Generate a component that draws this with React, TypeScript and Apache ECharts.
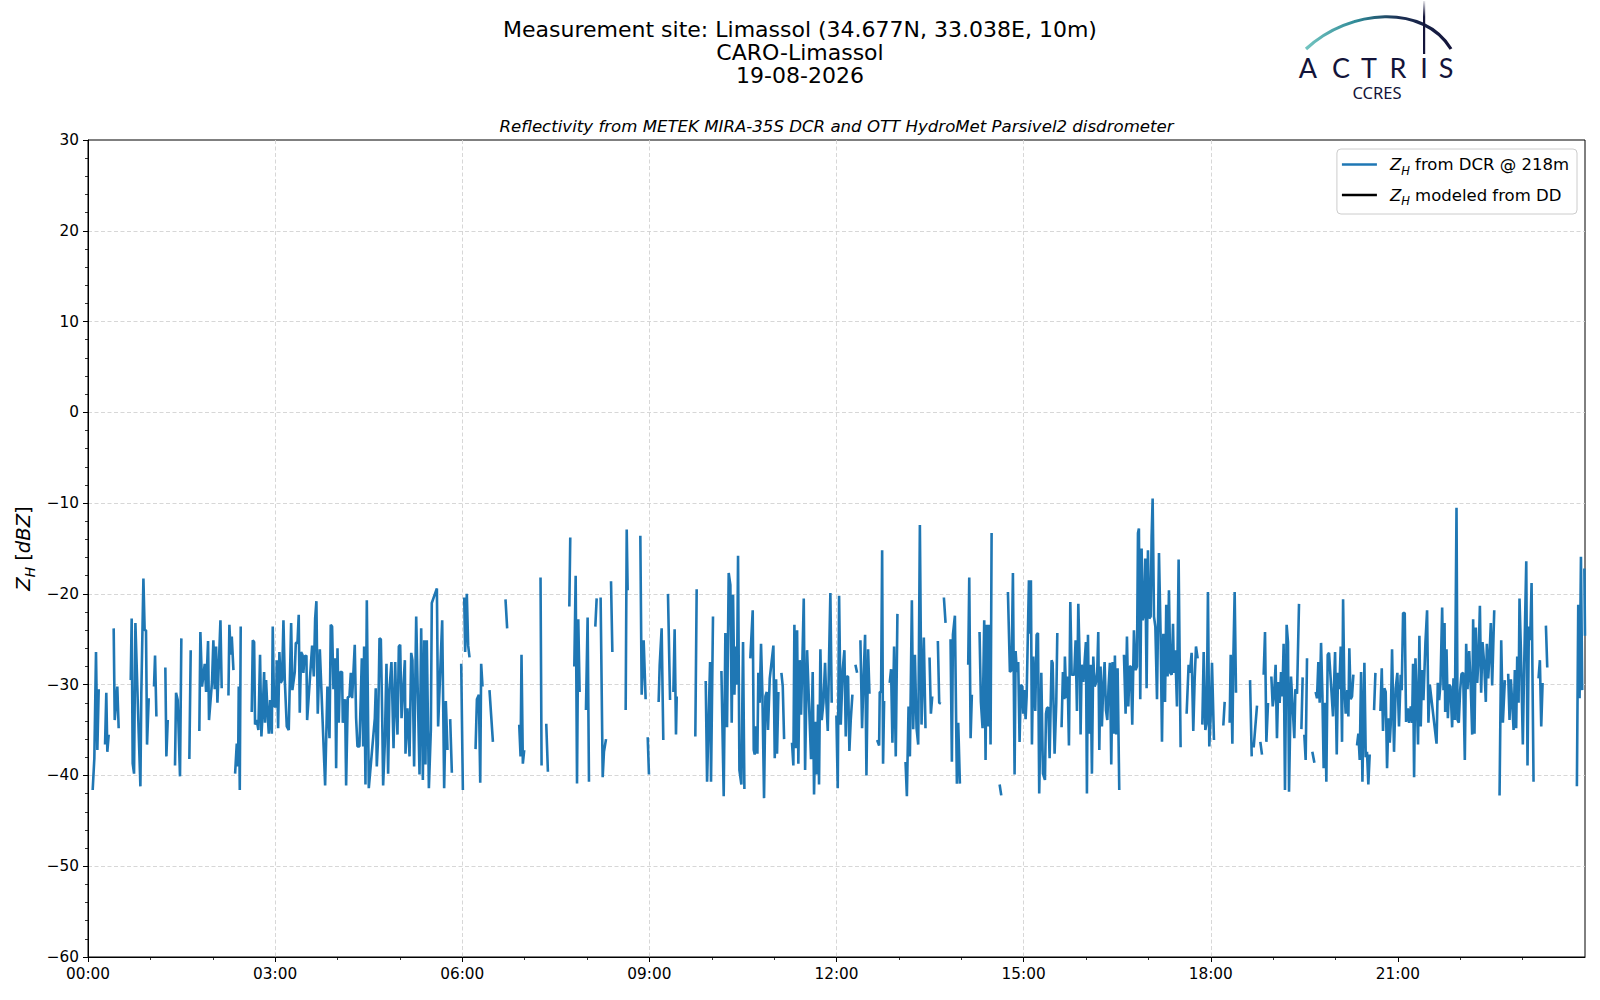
import React, { useEffect, useRef } from "react";
import * as echarts from "echarts";

type Pt = [number, number] | null;

// time in minutes since 00:00, Z_H in dBZ; null = gap
const dcrNight: Pt[] = [
  [4.5,-41.6],[6.1,-38.1],[7.7,-26.4],[9.0,-37.2],[10.3,-30.5],null,
  [16.4,-36.6],[17.6,-30.9],[18.6,-37.4],[19.9,-35.5],null,
  [24.7,-23.8],[25.7,-33.9],[28.2,-30.2],[29.5,-34.8],null,
  [41.1,-29.5],[42.0,-22.7],[43.0,-38.7],[44.3,-39.8],[45.6,-23.2],[48.8,-35.4],[50.4,-41.2],[51.3,-30.9],[53.3,-18.3],[54.5,-24.0],[55.8,-24.0],[56.8,-36.6],[58.4,-31.5],null,
  [63.5,-30.2],[64.5,-26.8],[65.8,-33.5],null,
  [74.4,-28.1],[75.4,-37.9],[76.7,-33.9],null,
  [83.7,-38.9],[84.7,-30.9],[86.3,-31.7],[88.5,-40.1],[89.8,-24.9],null,
  [97.5,-38.2],[98.8,-26.2],null,
  [107.1,-35.1],[108.1,-24.2],[109.7,-30.2],[112.3,-27.7],[113.6,-30.8],[115.5,-25.2],[116.4,-33.9],[119.3,-29.7],[120.6,-25.1],[121.9,-30.5],[123.2,-25.8],[124.5,-32.0],[127.4,-22.9],[128.6,-30.4],null,
  [135.1,-31.2],[136.0,-23.4],[137.3,-26.7],[138.3,-24.7],[139.9,-28.4],null,
  [141.5,-39.8],[143.1,-36.5],[144.4,-39.0],[145.0,-30.2],[146.0,-41.6],[146.9,-23.6],null,
  [157.5,-33.0],[158.5,-25.1],[159.8,-25.3],[160.7,-34.4],[162.3,-33.9],[163.9,-35.0],[165.5,-26.7],[166.8,-35.7],[168.1,-32.8],[169.4,-28.6],[170.3,-34.2],[171.3,-29.5],[172.6,-32.8],[173.9,-35.4],[175.2,-31.7],[176.8,-35.4],[177.7,-23.6],[179.0,-32.4],[180.9,-32.4],[181.6,-27.3],[182.9,-34.8],[184.1,-26.4],[185.4,-29.8],[186.7,-29.5],[188.0,-22.9],[189.3,-29.5],[191.2,-34.6],[193.1,-35.0],[195.4,-23.2],[196.6,-30.6],[198.9,-28.6],[199.9,-25.4],[201.5,-25.4],[202.7,-22.3],[203.7,-33.1],[205.0,-26.4],[206.3,-26.7],[207.2,-28.7],[208.2,-26.9],[210.1,-26.8],[210.8,-33.9],
  [215.6,-25.7],[217.2,-29.1],[218.5,-22.7],[219.7,-20.8],[221.0,-33.2],[223.0,-26.1],[228.1,-41.1],[230.3,-30.2],[232.3,-35.9],[233.5,-23.4],[234.8,-23.6],[236.1,-30.5],[237.7,-27.1],[238.7,-39.2],[240.0,-26.0],[241.2,-34.2],[242.5,-28.6],[244.4,-28.6],[245.1,-34.2],[247.3,-31.6],[248.3,-41.1],[249.9,-31.4],[251.5,-31.3],[252.8,-28.7],[254.1,-31.5],[256.6,-25.6],[257.9,-33.7],[259.2,-36.8],[261.1,-36.8],[263.4,-27.1],[264.7,-36.8],[265.6,-25.8],[266.9,-41.0],[268.2,-20.7],[270.1,-41.4],
  [275.9,-33.7],[276.8,-30.4],[277.8,-39.0],[278.8,-36.5],[280.4,-24.9],[281.7,-25.0],[282.9,-32.8],[283.9,-41.1],[285.5,-36.5],[287.1,-27.7],[288.7,-39.8],[290.0,-30.5],[291.9,-27.5],[293.9,-37.0],[295.5,-27.5],[296.4,-31.9],[297.7,-35.5],[299.0,-25.8],[300.3,-25.6],[301.6,-33.7],[302.8,-31.3],[304.8,-27.3],[305.4,-37.6],[307.3,-32.6],[309.3,-37.9],[310.9,-26.5],[312.1,-27.3],[313.7,-39.0],[315.7,-22.5],[317.3,-31.3],[318.9,-39.9],[320.5,-23.8],[322.1,-40.5],[323.4,-25.1],[324.6,-38.8],[325.9,-25.1],[327.9,-41.4],[329.8,-35.0],[330.7,-21.0],[335.6,-19.4],[336.8,-34.6],[340.7,-22.9],[342.6,-41.4],[344.2,-31.8],[345.8,-37.2],null,
  [348.4,-33.8],[350.0,-39.7],null,
  [359.0,-27.7],[360.6,-41.6],null,
];

const dcrMorning: Pt[] = [
  [361.9,-20.4],[362.8,-26.4],[364.4,-20.0],[365.7,-25.7],[367.0,-27.0],null,
  [372.8,-37.1],[374.1,-31.6],[376.0,-31.1],[377.3,-40.8],[378.2,-27.7],[379.5,-30.2],null,
  [386.2,-30.6],[389.5,-36.3],null,
  [401.6,-20.6],[403.2,-23.8],null,
  [414.8,-34.4],[416.1,-37.9],[417.0,-26.7],[418.3,-38.7],[419.6,-37.2],null,
  [435.3,-18.2],[436.3,-38.9],null,
  [440.8,-34.3],[442.4,-39.6],null,
  [463.0,-21.4],[463.9,-13.8],null,
  [467.8,-28.0],[469.1,-18.0],[470.4,-40.9],[471.6,-22.8],[472.9,-30.8],null,
  [479.0,-32.8],[480.6,-22.6],[481.9,-40.7],null,
  [488.0,-23.6],[489.3,-20.5],null,
  [493.1,-20.4],[495.1,-40.2],[496.3,-37.4],[498.3,-36.0],null,
  [503.1,-18.6],[504.4,-26.4],null,
  [517.2,-32.8],[518.2,-12.9],[519.1,-19.6],null,
  [531.3,-13.6],[532.6,-31.1],[534.5,-25.1],[536.4,-31.6],null,
  [538.4,-35.8],[539.6,-39.9],null,
  [548.9,-31.9],[549.9,-27.9],[551.8,-23.8],[553.4,-36.1],null,
  [557.9,-20.0],[559.9,-31.7],null,
  [563.1,-30.8],[564.3,-23.9],[565.6,-35.5],[566.3,-31.3],null,
  [584.2,-35.7],[585.5,-19.5],null,
  [594.2,-29.6],[595.5,-40.7],[598.4,-27.5],[599.3,-40.7],[601.2,-22.5],null,
  [609.3,-28.5],[611.5,-42.3],[613.1,-24.3],[614.7,-34.7],[616.3,-17.7],[617.9,-19.0],[619.2,-34.2],[620.5,-20.1],[621.8,-31.1],[623.0,-25.8],[624.3,-30.0],[625.3,-15.8],[626.6,-39.4],[628.5,-41.0],[630.1,-25.3],[631.4,-41.5],null,
  [637.1,-27.1],[639.4,-21.8],[640.4,-37.2],[641.3,-37.7],[642.6,-34.6],[643.9,-37.6],[644.8,-28.7],[646.1,-32.0],[647.4,-25.5],[648.7,-30.9],[650.3,-42.5],[651.6,-31.3],[652.9,-30.8],[654.1,-35.0],[655.8,-29.3],[659.3,-25.7],[660.6,-38.1],[661.9,-29.4],[662.8,-37.6],[664.1,-30.8],null,
  [667.0,-28.7],[668.3,-30.2],[669.6,-36.0],null,
  [677.2,-36.4],[678.5,-38.9],[679.5,-23.4],[680.8,-37.0],[682.1,-24.0],[683.3,-38.7],[684.6,-27.3],[685.9,-33.3],[687.2,-27.3],[688.5,-20.5],[689.8,-39.4],[691.7,-26.2],[695.5,-38.2],[697.1,-28.6],[698.4,-42.1],[699.7,-34.1],[701.0,-39.9],[702.3,-32.2],[703.2,-41.0],[704.5,-26.1],[705.8,-33.9],[707.4,-32.0],[709.0,-27.6],[710.3,-32.0],[711.6,-35.1],[712.9,-26.7],[714.1,-19.9],[715.4,-32.0],null,
];

const dcrAfternoon: Pt[] = [
  [719.9,-33.4],[721.2,-41.4],[722.5,-20.2],[724.1,-34.4],[726.0,-28.3],[727.6,-26.2],[728.9,-35.7],[729.9,-29.1],[731.1,-29.1],[732.4,-37.3],[733.7,-33.9],[735.3,-31.1],null,
  [738.2,-27.8],[739.8,-28.7],null,
  [743.0,-25.1],[744.6,-34.8],[745.9,-29.7],[747.5,-24.5],[748.8,-40.0],[750.4,-26.1],[751.7,-31.0],null,
  [759.1,-36.1],[761.0,-36.7],[761.6,-30.8],[762.9,-30.8],[763.9,-15.2],[764.8,-38.7],[765.8,-31.8],null,
  [771.2,-29.8],[772.5,-28.3],[773.8,-36.4],[775.4,-25.8],[777.0,-37.9],[778.6,-22.2],null,
  [786.4,-38.5],[787.7,-42.3],[789.3,-32.4],[790.6,-37.9],[792.5,-20.7],[793.8,-34.9],[795.4,-26.7],[797.0,-34.8],[798.6,-36.6],[800.2,-12.4],[801.8,-34.4],[804.0,-24.8],[805.6,-34.8],null,
  [809.5,-27.0],[810.8,-33.2],[812.1,-31.3],null,
  [817.5,-25.2],[818.8,-32.0],[820.4,-32.1],null,
  [823.3,-20.4],[824.9,-23.2],null,
  [829.7,-25.0],[831.0,-38.5],[832.0,-24.5],[833.9,-22.4],[835.8,-40.9],[837.1,-34.2],[838.7,-40.9],null,
  [846.7,-27.8],[847.7,-18.2],[849.0,-35.9],[850.2,-31.1],null,
  [857.6,-24.2],[858.9,-31.9],[860.5,-34.8],[862.1,-22.9],[863.4,-38.3],[864.4,-23.4],[865.6,-34.6],[866.9,-23.4],[868.2,-36.6],[869.2,-13.3],null,
  [876.9,-41.0],[878.5,-42.2],null,
  [884.9,-19.8],[886.8,-28.6],[888.4,-28.4],[889.7,-17.7],[891.3,-39.9],[892.3,-26.3],[893.5,-28.6],[894.8,-27.5],[896.1,-36.3],[897.4,-30.0],[898.7,-30.2],[899.6,-33.2],[900.6,-30.6],[901.9,-33.8],[902.9,-31.3],[905.1,-18.5],[906.1,-24.4],[907.0,-18.5],[908.0,-36.6],[909.3,-26.9],[911.2,-32.9],[912.5,-24.5],[913.8,-24.3],[915.0,-42.0],[917.0,-28.7],[918.6,-39.8],[920.5,-40.5],[921.5,-33.2],[922.4,-32.6],[923.7,-32.5],[925.0,-38.1],[926.9,-27.3],[927.9,-27.6],[929.8,-37.6],[931.4,-32.0],[932.4,-24.3],null,
  [936.5,-34.7],[937.8,-28.6],[939.1,-31.6],[939.7,-26.9],[941.0,-31.5],[942.3,-29.1],[943.6,-36.7],[944.9,-20.9],[946.2,-28.9],[948.7,-28.9],[950.0,-25.1],[951.3,-32.9],[952.6,-21.1],[954.2,-28.9],
  [954.8,-35.5],[955.8,-27.8],[957.4,-29.7],[958.6,-27.6],[959.9,-25.3],[960.9,-42.0],[961.9,-24.5],[963.1,-35.4],[964.4,-27.8],[965.7,-39.8],[967.0,-26.9],[968.3,-30.2],[969.6,-29.8],[970.8,-28.6],[971.8,-24.2],[972.8,-37.2],[974.0,-28.0],[975.3,-34.6],[976.6,-30.2],[977.9,-27.5],[979.2,-32.8],[980.5,-33.9],[981.7,-30.2],[983.0,-27.6],[984.3,-38.8],[985.6,-27.5],[986.9,-35.4],[987.8,-26.8],[989.1,-35.5],[990.4,-28.2],[992.0,-41.6],null,
  [996.5,-26.7],[998.1,-33.2],[999.4,-24.7],[1000.7,-32.4],[1002.0,-28.0],[1003.2,-28.0],[1004.5,-34.4],[1006.1,-24.0],[1007.7,-28.4],[1009.0,-28.0],[1010.0,-13.3],[1010.9,-12.8],[1012.2,-31.6],[1013.5,-15.0],[1014.5,-22.9],[1015.7,-22.3],[1017.0,-16.1],[1018.3,-30.4],[1019.6,-15.2],[1020.9,-22.7],[1022.2,-22.5],[1023.1,-13.7],[1024.1,-9.5],[1025.4,-22.5],[1026.7,-23.6],[1028.3,-31.6],[1030.2,-15.5],[1031.8,-24.7],[1033.1,-36.3],[1034.4,-24.4],[1036.0,-31.9],[1037.2,-21.2],[1038.5,-29.1],[1039.8,-19.6],[1041.1,-28.7],[1042.4,-28.9],[1043.7,-23.3],[1044.6,-28.7],[1045.9,-26.2],[1047.5,-32.4],[1049.1,-16.2],[1050.1,-27.1],[1051.0,-36.9],null,
  [1056.8,-33.2],[1058.7,-27.8],[1060.0,-28.7],[1061.6,-26.5],[1063.2,-35.1],[1064.5,-29.5],[1065.8,-25.8],[1067.4,-27.1],null,
  [1071.9,-34.4],[1073.2,-26.4],[1074.8,-35.0],[1076.1,-34.2],[1077.3,-19.8],[1078.6,-36.8],[1079.9,-33.5],[1081.2,-27.6],[1083.1,-36.1],null,
];

const dcrEvening: Pt[] = [
  [1092.1,-34.5],[1093.4,-31.9],null,
  [1098.2,-34.2],[1099.2,-26.7],[1100.8,-36.5],[1101.7,-27.3],[1103.0,-19.8],[1104.3,-30.9],null,
  [1117.8,-29.5],[1119.4,-37.9],null,
  [1121.3,-36.9],[1124.5,-32.3],null,
  [1127.7,-36.3],[1129.3,-37.7],null,
  [1130.9,-28.9],[1132.2,-24.2],[1133.5,-36.3],[1135.1,-32.0],null,
  [1138.3,-29.1],[1139.6,-32.4],[1140.8,-31.3],[1142.4,-27.8],[1143.7,-35.9],[1145.0,-29.7],[1146.3,-32.0],[1147.6,-28.6],[1148.9,-31.3],[1150.1,-25.5],[1151.4,-41.6],[1153.0,-23.4],[1154.3,-25.3],[1155.3,-41.8],[1157.2,-29.1],[1160.4,-35.9],[1161.4,-30.5],[1163.0,-31.0],[1164.9,-21.1],null,
  [1167.2,-34.9],[1168.4,-29.2],null,
  [1170.0,-35.5],[1171.3,-38.3],[1172.6,-27.1],null,
  [1177.7,-37.4],[1179.7,-38.6],null,
  [1180.9,-30.8],[1182.2,-31.5],[1183.5,-27.5],[1184.8,-32.0],[1186.1,-25.4],[1187.4,-31.1],[1188.6,-39.2],[1189.9,-32.0],[1191.2,-40.7],[1192.5,-26.7],[1193.8,-26.5],[1197.6,-33.5],[1199.6,-26.4],[1201.2,-37.7],[1202.4,-28.7],[1203.7,-30.5],[1205.0,-25.8],[1206.3,-36.3],[1207.3,-20.6],[1208.5,-30.2],[1209.8,-33.2],[1211.4,-30.6],[1212.4,-33.5],[1213.3,-26.0],[1214.6,-31.6],[1215.9,-31.3],[1217.2,-28.9],null,
  [1220.7,-36.7],[1222.0,-35.4],[1223.3,-38.3],[1224.6,-28.6],[1225.9,-40.7],[1227.8,-27.6],[1229.1,-38.0],[1230.3,-37.4],[1231.6,-41.0],[1232.9,-37.7],null,
  [1237.1,-32.8],[1238.4,-28.7],null,
  [1243.2,-32.9],[1244.5,-28.2],[1245.7,-35.1],[1247.0,-30.4],[1248.3,-30.8],[1249.6,-39.2],[1250.9,-33.7],[1252.2,-36.4],[1253.1,-34.4],[1254.4,-26.1],[1256.3,-37.4],[1257.9,-30.4],[1259.5,-28.7],[1261.1,-34.6],[1262.7,-28.9],[1263.7,-30.6],[1265.0,-22.1],[1266.6,-22.1],[1267.9,-34.1],[1269.5,-32.6],[1270.8,-34.2],[1272.4,-32.4],[1273.7,-34.2],[1274.6,-27.7],[1275.6,-40.2],[1276.9,-27.1],[1278.1,-31.3],[1279.4,-36.6],[1280.7,-24.6],[1282.0,-34.6],[1283.3,-28.4],[1284.6,-31.7],[1286.5,-25.4],[1288.1,-21.8],[1289.4,-34.2],[1290.7,-30.0],
  [1297.2,-36.5],[1298.4,-29.8],[1299.7,-31.7],[1301.0,-29.9],[1302.6,-21.5],[1303.9,-30.6],[1304.9,-23.2],[1305.5,-33.0],[1306.8,-26.1],[1308.1,-33.7],[1309.3,-30.0],[1310.6,-30.2],[1312.2,-34.7],[1313.5,-29.3],[1314.8,-33.9],[1316.4,-10.5],[1317.4,-33.9],[1318.6,-34.2],[1319.9,-30.6],[1321.2,-28.8],[1322.8,-28.7],[1324.4,-38.3],[1325.7,-25.5],[1327.0,-30.5],[1328.6,-26.3],[1330.2,-30.6],[1331.5,-35.5],[1332.4,-22.8],[1333.7,-35.4],[1335.0,-23.7],[1336.3,-29.8],[1337.6,-27.1],[1338.9,-21.3],[1340.1,-30.9],[1341.4,-25.3],[1343.0,-27.6],[1344.6,-31.9],[1345.6,-25.5],[1346.9,-29.3],[1348.2,-26.6],[1349.4,-23.2],[1350.7,-30.1],[1352.7,-21.8],null,
  [1357.8,-42.2],[1359.4,-25.1],[1361.0,-34.2],[1362.9,-29.5],null,
  [1366.1,-28.8],[1367.4,-33.9],[1368.7,-29.4],[1370.0,-32.0],[1371.3,-35.0],[1372.5,-28.4],[1373.8,-34.8],[1374.8,-26.9],[1376.1,-32.0],[1377.0,-20.5],[1378.3,-26.0],[1380.2,-36.6],[1381.5,-27.8],[1383.5,-16.4],[1384.7,-38.9],[1386.0,-23.6],[1387.3,-25.1],[1388.6,-18.8],[1390.5,-40.7],null,
  [1395.3,-29.3],[1396.6,-27.3],[1397.9,-34.6],[1399.2,-29.8],null,
  [1402.4,-23.5],[1403.7,-28.1],null,
  [1432.2,-41.2],[1433.5,-21.2],[1434.8,-31.5],[1436.1,-15.9],[1437.3,-30.6],null,
  [1439.4,-17.2],[1440.0,-24.6],
];

const ddModel: Pt[] = [];

const xTickMinutes = [0, 180, 360, 540, 720, 900, 1080, 1260];
const xTickLabels = ["00:00", "03:00", "06:00", "09:00", "12:00", "15:00", "18:00", "21:00"];
const titleLines = [
  "Measurement site: Limassol (34.677N, 33.038E, 10m)",
  "CARO-Limassol",
  "19-08-2026",
];
const subTitle = "Reflectivity from METEK MIRA-35S DCR and OTT HydroMet Parsivel2 disdrometer";
const legendNames: Record<string, string> = {
  dcr: "{z0|Z}{h|H}{t| from DCR @ 218m}",
  dd: "{z0|Z}{h|H}{t| modeled from DD}",
};

const FONT = "DejaVu Sans";
const NAVY = "#13143a";

function toSeries(arr: Pt[]) {
  return arr.map((p) => (p === null ? "-" : p));
}

export default function App() {
  const ref = useRef<HTMLDivElement>(null);
  useEffect(() => {
    if (!ref.current) return;
    const chart = echarts.init(ref.current, undefined, { renderer: "svg" });
    const dcr = [...dcrNight, ...dcrMorning, ...dcrAfternoon, ...dcrEvening];
    const minus = (v: number) => (v < 0 ? "\u2212" + Math.abs(v) : String(v));
    const richLegend = {
      z0: { fontFamily: FONT, fontStyle: "italic", fontSize: 16.5, lineHeight: 24, padding: [0, 0, 0, 8], color: "#000" },
      h: { fontFamily: FONT, fontStyle: "italic", fontSize: 11.5, lineHeight: 24, verticalAlign: "bottom", color: "#000" },
      t: { fontFamily: FONT, fontSize: 16.5, lineHeight: 24, color: "#000" },
    };
    const letters = [
      ["A", 1308],
      ["C", 1341],
      ["T", 1369],
      ["R", 1398],
      ["I", 1424],
      ["S", 1446],
    ];
    const gridLine = { show: true, showMinLine: false, showMaxLine: false, lineStyle: { color: "#d3d3d3", type: [4, 2.5], width: 0.9 } };
    const option: any = {
      animation: false,
      grid: { left: 88, right: 15, top: 140, bottom: 43, show: true, borderColor: "#000", borderWidth: 1, backgroundColor: "rgba(0,0,0,0)" },
      xAxis: {
        type: "value",
        min: 0,
        max: 1440,
        interval: 180,
        axisLine: { show: true, onZero: false, lineStyle: { color: "#000", width: 1 } },
        axisTick: { show: true, length: 5, customValues: xTickMinutes, lineStyle: { color: "#000", width: 1 } },
        minorTick: { show: true, splitNumber: 3, length: 3, lineStyle: { color: "#000", width: 0.8 } },
        axisLabel: {
          fontFamily: FONT,
          fontSize: 15.3,
          color: "#000",
          margin: 9,
          customValues: xTickMinutes,
          formatter: (v: number) => xTickLabels[xTickMinutes.indexOf(Math.round(v))] ?? "",
        },
        splitLine: gridLine,
      },
      yAxis: {
        type: "value",
        min: -60,
        max: 30,
        interval: 10,
        axisLine: { show: true, onZero: false, lineStyle: { color: "#000", width: 1 } },
        axisTick: { show: true, length: 5, lineStyle: { color: "#000", width: 1 } },
        minorTick: { show: true, splitNumber: 5, length: 3, lineStyle: { color: "#000", width: 0.8 } },
        axisLabel: { fontFamily: FONT, fontSize: 15.3, color: "#000", margin: 9, formatter: minus },
        splitLine: gridLine,
      },
      legend: {
        orient: "vertical",
        right: 23,
        top: 149,
        icon: "rect",
        itemWidth: 35,
        itemHeight: 2.5,
        itemGap: 10,
        padding: [7, 8, 7, 5],
        borderColor: "#cccccc",
        borderWidth: 1,
        borderRadius: 4,
        backgroundColor: "rgba(255,255,255,0.85)",
        selectedMode: false,
        data: ["dcr", "dd"],
        formatter: (name: string) => legendNames[name],
        textStyle: { fontFamily: FONT, fontSize: 16.5, color: "#000", rich: richLegend },
      },
      series: [
        {
          name: "dcr",
          type: "line",
          data: toSeries(dcr),
          showSymbol: false,
          symbol: "none",
          connectNulls: false,
          lineStyle: { color: "#1f77b4", width: 2.6 },
          itemStyle: { color: "#1f77b4" },
          z: 3,
        },
        {
          name: "dd",
          type: "line",
          data: toSeries(ddModel),
          showSymbol: false,
          symbol: "none",
          lineStyle: { color: "#000", width: 2.6 },
          itemStyle: { color: "#000" },
        },
      ],
      graphic: [
        ...titleLines.map((t, i) => ({
          type: "text",
          x: 800,
          y: 29 + i * 23,
          style: { text: t, fontFamily: FONT, fontSize: 22, fill: "#000", align: "center", verticalAlign: "middle" },
        })),
        {
          type: "text",
          x: 836.5,
          y: 126,
          style: { text: subTitle, fontFamily: FONT, fontStyle: "italic", fontSize: 16.6, fill: "#000", align: "center", verticalAlign: "middle" },
        },
        {
          type: "text",
          x: 23,
          y: 548.5,
          rotation: Math.PI / 2,
          style: {
            text: "{z|Z}{h|H}{t| [}{z|dBZ}{t|]}",
            align: "center",
            verticalAlign: "middle",
            rich: {
              z: { fontFamily: FONT, fontStyle: "italic", fontSize: 19.6, lineHeight: 27, fill: "#000" },
              h: { fontFamily: FONT, fontStyle: "italic", fontSize: 13.7, lineHeight: 27, verticalAlign: "bottom", fill: "#000" },
              t: { fontFamily: FONT, fontSize: 19.6, lineHeight: 27, fill: "#000" },
            },
          },
        },
        // ACTRIS logo
        {
          type: "bezierCurve",
          shape: { x1: 1306, y1: 49, cpx1: 1350, cpy1: 8, cpx2: 1424, cpy2: 4, x2: 1451, y2: 49 },
          style: {
            fill: "none",
            lineWidth: 3.2,
            stroke: new echarts.graphic.LinearGradient(0, 0, 1, 0, [
              { offset: 0, color: "#72c4c0" },
              { offset: 0.35, color: "#2f8a97" },
              { offset: 0.65, color: "#1b2e52" },
              { offset: 1, color: NAVY },
            ]),
          },
        },
        {
          type: "rect",
          shape: { x: 1423, y: 1, width: 2.2, height: 53 },
          style: {
            fill: new echarts.graphic.LinearGradient(0, 0, 0, 1, [
              { offset: 0, color: "rgba(19,20,58,0.1)" },
              { offset: 0.3, color: NAVY },
              { offset: 1, color: NAVY },
            ]),
          },
        },
        ...letters.map(([ch, x]) => ({
          type: "text",
          x: x as number,
          y: 67,
          style: { text: ch as string, fontFamily: "Lato", fontSize: 27, fill: NAVY, align: "center", verticalAlign: "middle" },
        })),
        {
          type: "text",
          x: 1377,
          y: 92,
          style: { text: "CCRES", fontFamily: "Noto Sans", fontSize: 16.5, fill: NAVY, align: "center", verticalAlign: "middle" },
        },
      ],
    };
    chart.setOption(option);
    return () => chart.dispose();
  }, []);
  return <div ref={ref} style={{ position: "fixed", left: 0, top: 0, width: 1600, height: 1000, background: "#fff" }} />;
}
